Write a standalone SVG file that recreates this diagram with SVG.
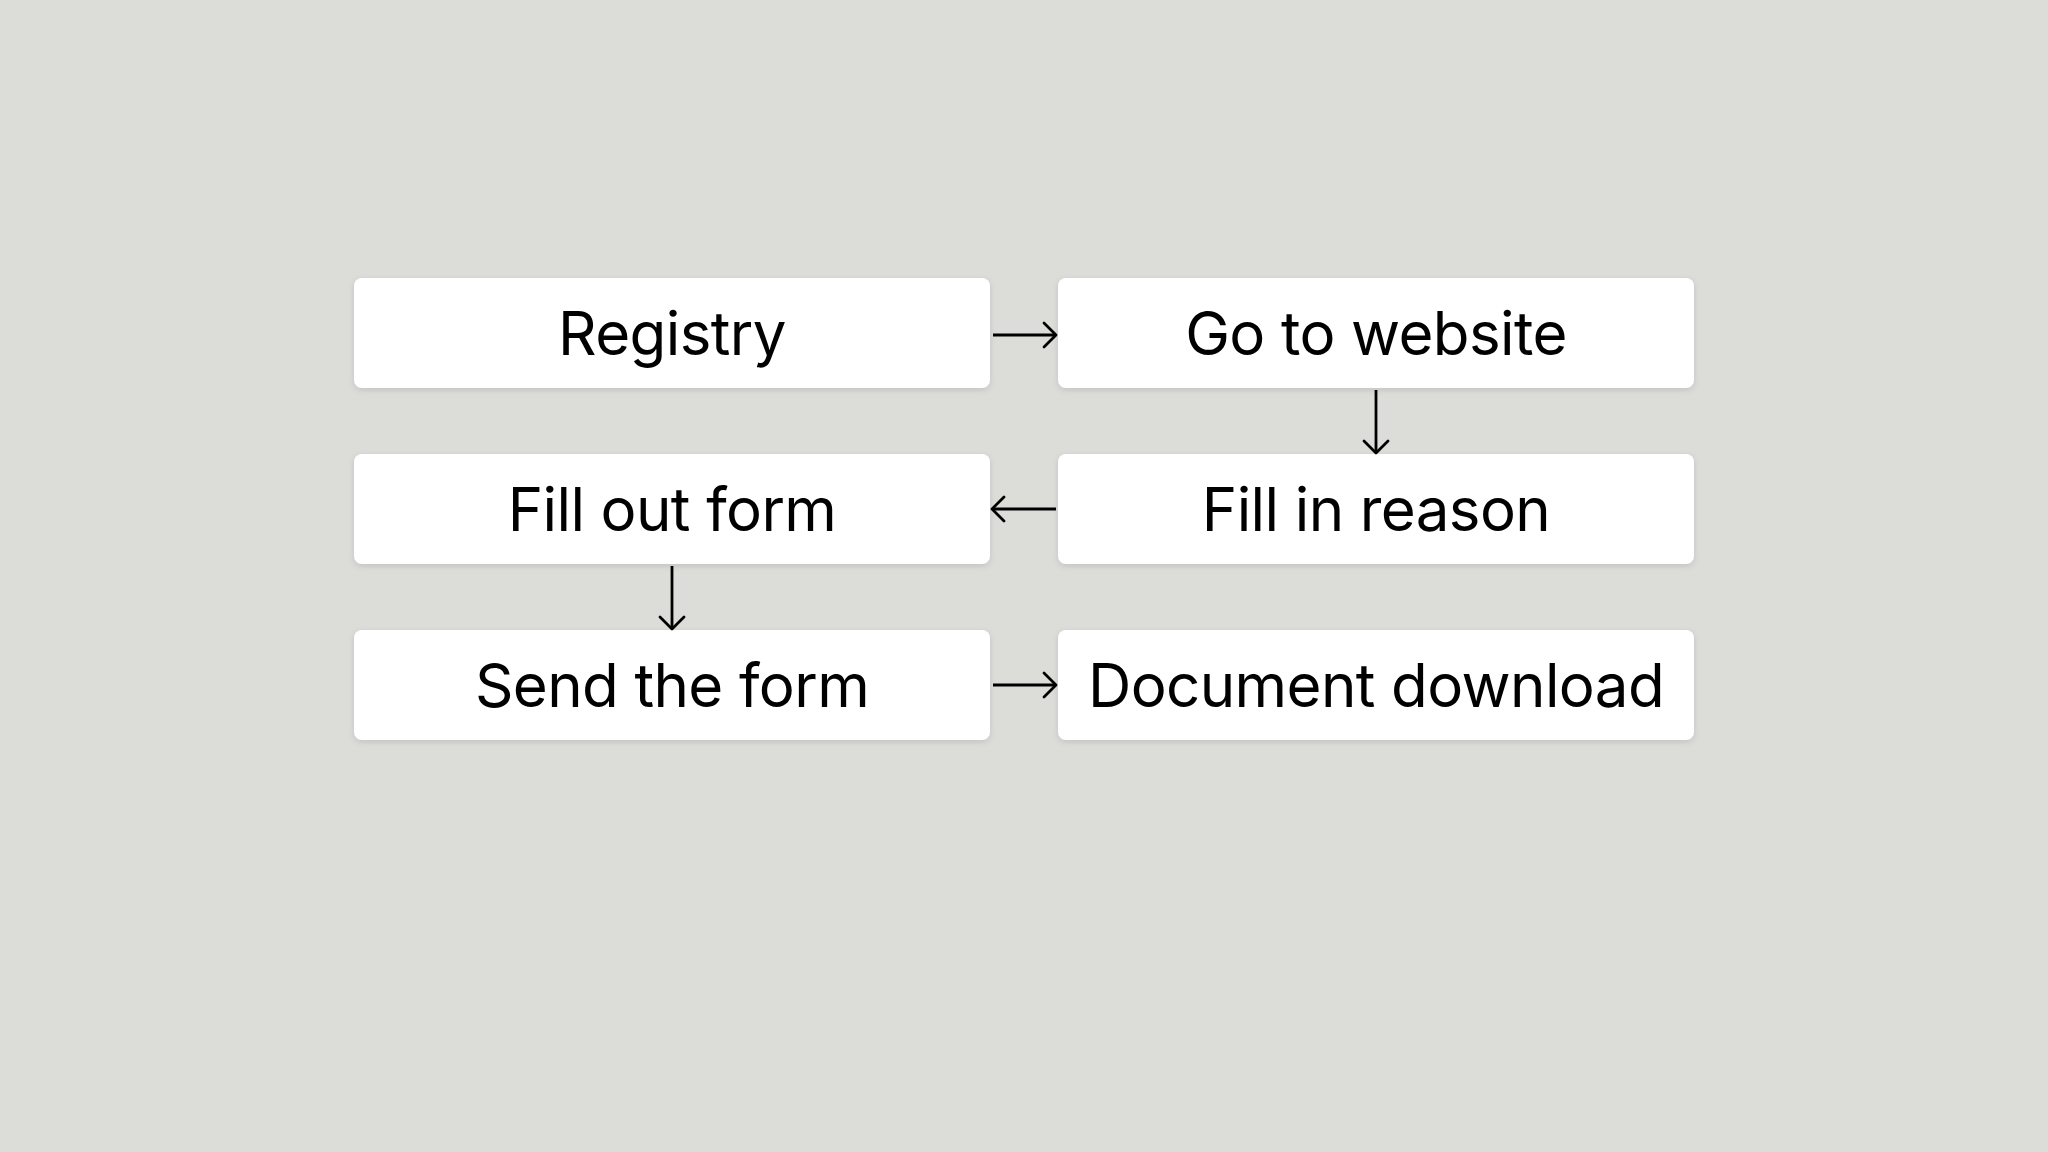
<svg xmlns="http://www.w3.org/2000/svg" width="2048" height="1152" viewBox="0 0 2048 1152">
  <defs>
    <filter id="sh" x="-5%" y="-20%" width="110%" height="150%">
      <feDropShadow dx="0" dy="2" stdDeviation="3" flood-color="#000" flood-opacity="0.12"/>
    </filter>
    <marker id="ah" viewBox="0 0 20 30" refX="17" refY="15" markerWidth="20" markerHeight="30" markerUnits="userSpaceOnUse" orient="auto">
      <path d="M5,3 L17,15 L5,27" fill="none" stroke="#000" stroke-width="2.8" stroke-linecap="round" stroke-linejoin="round"/>
    </marker>
    <style>
      .box { fill: #ffffff; filter: url(#sh); }
      .lbl { font-family: Inter, "Liberation Sans", sans-serif; font-size: 60px; letter-spacing: -0.6px; fill: #000; text-anchor: middle; }
      .conn { stroke: #000; stroke-width: 2.8; fill: none; marker-end: url(#ah); }
    </style>
  </defs>
  <rect width="2048" height="1152" fill="#dcddd8"/>

  <g id="registry">
    <rect class="box" x="354" y="278" width="636" height="110" rx="8"/>
    <text class="lbl" x="672" y="355">Registry</text>
  </g>
  <g id="go-to-website">
    <rect class="box" x="1058" y="278" width="636" height="110" rx="8"/>
    <text class="lbl" x="1376" y="355">Go to website</text>
  </g>
  <g id="fill-out-form">
    <rect class="box" x="354" y="454" width="636" height="110" rx="8"/>
    <text class="lbl" x="672" y="531">Fill out form</text>
  </g>
  <g id="fill-in-reason">
    <rect class="box" x="1058" y="454" width="636" height="110" rx="8"/>
    <text class="lbl" x="1376" y="531">Fill in reason</text>
  </g>
  <g id="send-the-form">
    <rect class="box" x="354" y="630" width="636" height="110" rx="8"/>
    <text class="lbl" x="672" y="707">Send the form</text>
  </g>
  <g id="document-download">
    <rect class="box" x="1058" y="630" width="636" height="110" rx="8"/>
    <text class="lbl" x="1376" y="707">Document download</text>
  </g>

  <g id="connectors">
    <line class="conn" x1="993" y1="335" x2="1056" y2="335"/>
    <line class="conn" x1="1376" y1="390" x2="1376" y2="453"/>
    <line class="conn" x1="1056" y1="509" x2="992" y2="509"/>
    <line class="conn" x1="672" y1="566" x2="672" y2="629"/>
    <line class="conn" x1="993" y1="685" x2="1056" y2="685"/>
  </g>
</svg>
